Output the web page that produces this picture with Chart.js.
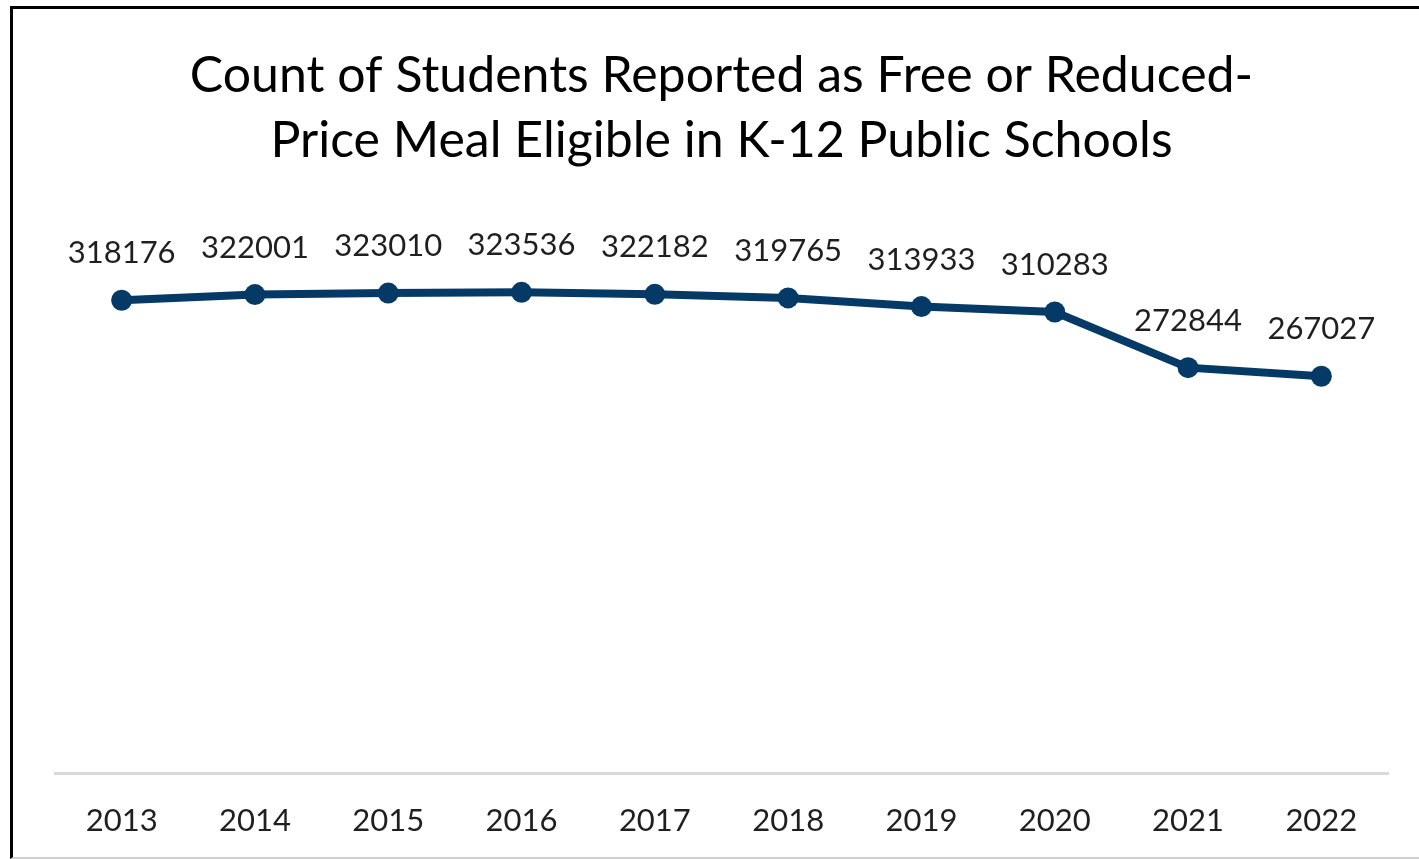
<!DOCTYPE html>
<html>
<head>
<meta charset="utf-8">
<script src="https://cdn.jsdelivr.net/npm/chart.js@4.4.1/dist/chart.umd.min.js"></script>
<style>
  html, body { margin: 0; padding: 0; background: #fff; overflow: hidden; }
  #wrap { position: absolute; left: 0; top: 0; width: 1419px; height: 859px; }
  #frame { position: absolute; left: 10px; top: 6px; width: 1420px; height: 848px;
           border-left: 3px solid #000; border-top: 3px solid #000; border-bottom: 2px solid #d0d0d0; box-sizing: content-box; }
  canvas { position: absolute; left: 0; top: 0; }
</style>
</head>
<body>
<div id="wrap">
  <div id="frame"></div>
  <canvas id="c" width="1419" height="859"></canvas>
</div>
<script>
const years = ['2013','2014','2015','2016','2017','2018','2019','2020','2021','2022'];
const students = [318176, 322001, 323010, 323536, 322182, 319765, 313933, 310283, 272844, 267027];
const titleLines = ['Count of Students Reported as Free or Reduced-', 'Price Meal Eligible in K-12 Public Schools'];
const yMin = 0;
const yMax = 350000;

const FONT = 'Lato, "Open Sans", "DejaVu Sans", sans-serif';
const LINE_COLOR = '#063a66';

const labelPlugin = {
  id: 'pointLabels',
  afterDatasetsDraw(chart) {
    const ctx = chart.ctx;
    const meta = chart.getDatasetMeta(0);
    ctx.save();
    ctx.font = '31px ' + FONT;
    ctx.fillStyle = '#1f1f1f';
    ctx.textAlign = 'center';
    ctx.textBaseline = 'alphabetic';
    meta.data.forEach((pt, i) => {
      ctx.fillText(String(students[i]), pt.x, pt.y - 37);
    });
    ctx.restore();
  }
};

new Chart(document.getElementById('c'), {
  type: 'line',
  data: {
    labels: years,
    datasets: [{
      data: students,
      borderColor: LINE_COLOR,
      backgroundColor: LINE_COLOR,
      borderWidth: 8,
      pointRadius: 10.5,
      pointBorderWidth: 0,
      pointBackgroundColor: LINE_COLOR,
      tension: 0
    }]
  },
  options: {
    responsive: false,
    animation: false,
    layout: { padding: { left: 55, right: 31, top: 0, bottom: 0 } },
    plugins: {
      legend: { display: false },
      tooltip: { enabled: false },
      title: {
        display: true,
        text: titleLines,
        color: '#000',
        font: { family: FONT, size: 50, weight: 'normal', lineHeight: 65 / 50 },
        padding: { top: 43, bottom: 80 }
      }
    },
    scales: {
      x: {
        offset: true,
        grid: { display: false },
        border: { display: true, color: '#d9d9d9', width: 3 },
        ticks: { color: '#1f1f1f', font: { family: FONT, size: 31 }, padding: 21, maxRotation: 0 },
        afterFit(scale) { scale.height = 86; }
      },
      y: {
        display: false,
        min: yMin,
        max: yMax
      }
    }
  },
  plugins: [labelPlugin]
});
</script>
</body>
</html>
